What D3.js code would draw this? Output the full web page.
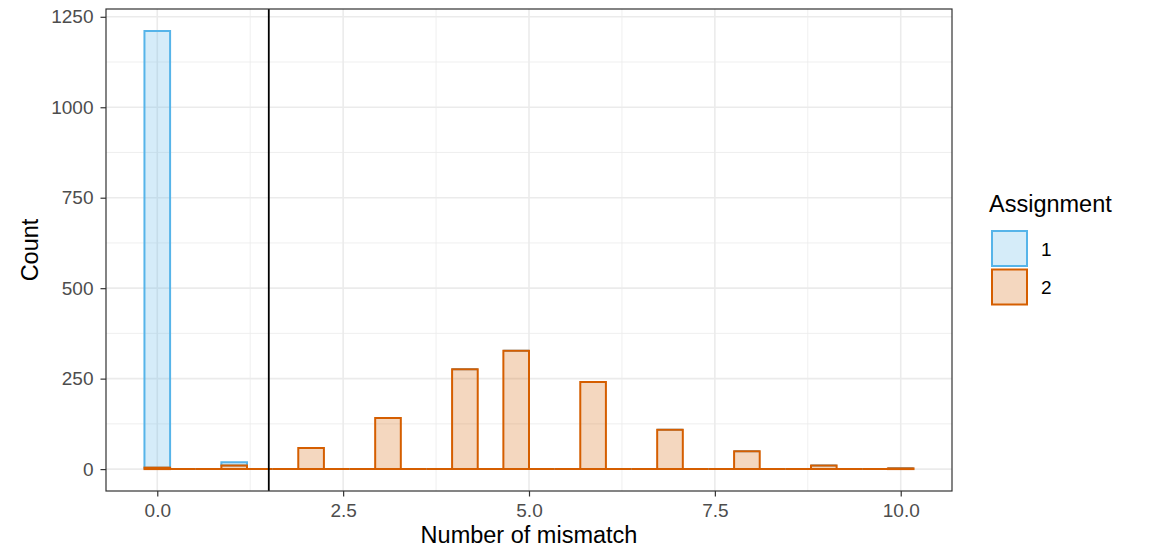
<!DOCTYPE html>
<html>
<head>
<meta charset="utf-8">
<script src="https://cdn.jsdelivr.net/npm/d3@7/dist/d3.min.js"></script>
<style>
  html, body { margin: 0; padding: 0; background: #ffffff; }
  svg { display: block; font-family: "Liberation Sans", Arial, Helvetica, sans-serif; }
</style>
</head>
<body>
<svg id="chart" width="1150" height="549"></svg>
<script>
// Histogram of mismatch counts, 30 bins over [0, 10], stacked by assignment
const binCount = 30;
const dataMin = 0;
const dataMax = 10;

// Counts per bin (bin k centred at k * 10/29)
const countsAssign1 = [1207, 0, 0, 9, 0, 0, 0, 0, 0, 0,
                       0, 0, 0, 0, 0, 0, 0, 0, 0, 0,
                       0, 0, 0, 0, 0, 0, 0, 0, 0, 0];
const countsAssign2 = [4, 0, 0, 10, 0, 0, 58, 0, 0, 141,
                       0, 0, 276, 0, 327, 0, 0, 241, 0, 0,
                       109, 0, 0, 49, 0, 0, 10, 0, 0, 2];

const groups = ["1", "2"];
const strokeColors = ["#56B4E9", "#D55E00"];

const xTicks = [0, 2.5, 5, 7.5, 10];
const xTickLabels = ["0.0", "2.5", "5.0", "7.5", "10.0"];
const xMinor = [1.25, 3.75, 6.25, 8.75];
const yTicks = [0, 250, 500, 750, 1000, 1250];
const yTickLabels = ["0", "250", "500", "750", "1000", "1250"];
const yMinor = [125, 375, 625, 875, 1125];
const cutoff = 1.5;

const svg = d3.select("#chart");
const panel = { left: 106, right: 952, top: 9, bottom: 491 };

const binWidth = (dataMax - dataMin) / (binCount - 1);
const xLo = dataMin - binWidth / 2, xHi = dataMax + binWidth / 2;
const xPad = (xHi - xLo) * 0.05;
const x = d3.scaleLinear().domain([xLo - xPad, xHi + xPad]).range([panel.left, panel.right]);

const totals = countsAssign1.map((v, i) => v + countsAssign2[i]);
const yMax = d3.max(totals);
const yPad = yMax * 0.05;
const y = d3.scaleLinear().domain([-yPad, yMax + yPad]).range([panel.bottom, panel.top]);

// Grid
const grid = svg.append("g");
grid.selectAll(".xmin").data(xMinor).join("line")
  .attr("x1", d => x(d)).attr("x2", d => x(d))
  .attr("y1", panel.top).attr("y2", panel.bottom)
  .attr("stroke", "#ebebeb").attr("stroke-width", 0.8);
grid.selectAll(".ymin").data(yMinor).join("line")
  .attr("y1", d => y(d)).attr("y2", d => y(d))
  .attr("x1", panel.left).attr("x2", panel.right)
  .attr("stroke", "#ebebeb").attr("stroke-width", 0.8);
grid.selectAll(".xmaj").data(xTicks).join("line")
  .attr("x1", d => x(d)).attr("x2", d => x(d))
  .attr("y1", panel.top).attr("y2", panel.bottom)
  .attr("stroke", "#ebebeb").attr("stroke-width", 1.6);
grid.selectAll(".ymaj").data(yTicks).join("line")
  .attr("y1", d => y(d)).attr("y2", d => y(d))
  .attr("x1", panel.left).attr("x2", panel.right)
  .attr("stroke", "#ebebeb").attr("stroke-width", 1.6);

// Stacked bins: assignment 2 at the bottom, assignment 1 above it
function binPath(i, lo, hi) {
  const c = dataMin + i * binWidth;
  const x0 = x(c - binWidth / 2), x1 = x(c + binWidth / 2);
  const y0 = y(lo), y1 = y(hi);
  const p = d3.path();
  p.moveTo(x0, y0); p.lineTo(x0, y1); p.lineTo(x1, y1); p.lineTo(x1, y0); p.closePath();
  return p.toString();
}

const bars = svg.append("g");
const stacks = [
  { counts: countsAssign1, base: countsAssign2, color: strokeColors[0] },
  { counts: countsAssign2, base: countsAssign2.map(() => 0), color: strokeColors[1] }
];
stacks.forEach(s => {
  bars.append("g").selectAll("path").data(d3.range(binCount)).join("path")
    .attr("d", i => binPath(i, s.base[i], s.base[i] + s.counts[i]))
    .attr("fill", s.color).attr("fill-opacity", 0.25)
    .attr("stroke", s.color).attr("stroke-width", 2);
});

// Cutoff line
svg.append("line")
  .attr("x1", x(cutoff)).attr("x2", x(cutoff))
  .attr("y1", panel.top).attr("y2", panel.bottom)
  .attr("stroke", "#000").attr("stroke-width", 1.8);

// Panel border
svg.append("rect")
  .attr("x", panel.left).attr("y", panel.top)
  .attr("width", panel.right - panel.left).attr("height", panel.bottom - panel.top)
  .attr("fill", "none").attr("stroke", "#333333").attr("stroke-width", 1.2);

// Axes
const xAxis = svg.append("g").attr("transform", `translate(0,${panel.bottom})`)
  .call(d3.axisBottom(x).tickValues(xTicks).tickFormat((d, i) => xTickLabels[i]).tickSize(5.5).tickPadding(7.5));
const yAxis = svg.append("g").attr("transform", `translate(${panel.left},0)`)
  .call(d3.axisLeft(y).tickValues(yTicks).tickFormat((d, i) => yTickLabels[i]).tickSize(5.5).tickPadding(7));
[xAxis, yAxis].forEach(a => {
  a.select(".domain").remove();
  a.selectAll(".tick line").attr("stroke", "#333333").attr("stroke-width", 1.2);
  a.selectAll(".tick text").attr("fill", "#4d4d4d").style("font-size", "19px")
    .style("font-family", "'Liberation Sans', Arial, sans-serif");
});

// Axis titles
svg.append("text").attr("x", (panel.left + panel.right) / 2).attr("y", 543)
  .attr("text-anchor", "middle").style("font-size", "23.5px").attr("fill", "#000")
  .text("Number of mismatch");
svg.append("text").attr("transform", `translate(38,${(panel.top + panel.bottom) / 2}) rotate(-90)`)
  .attr("text-anchor", "middle").style("font-size", "23.5px").attr("fill", "#000")
  .text("Count");

// Legend
const legend = svg.append("g");
legend.append("text").attr("x", 989).attr("y", 212).style("font-size", "23.5px").attr("fill", "#000")
  .text("Assignment");
groups.forEach((g, i) => {
  const top = 230 + i * 38.5;
  legend.append("rect").attr("x", 992).attr("y", top + 1).attr("width", 35).attr("height", 35)
    .attr("fill", strokeColors[i]).attr("fill-opacity", 0.25)
    .attr("stroke", strokeColors[i]).attr("stroke-width", 2);
  legend.append("text").attr("x", 1041).attr("y", top + 25.5)
    .style("font-size", "19px").attr("fill", "#000").text(g);
});
</script>
</body>
</html>
